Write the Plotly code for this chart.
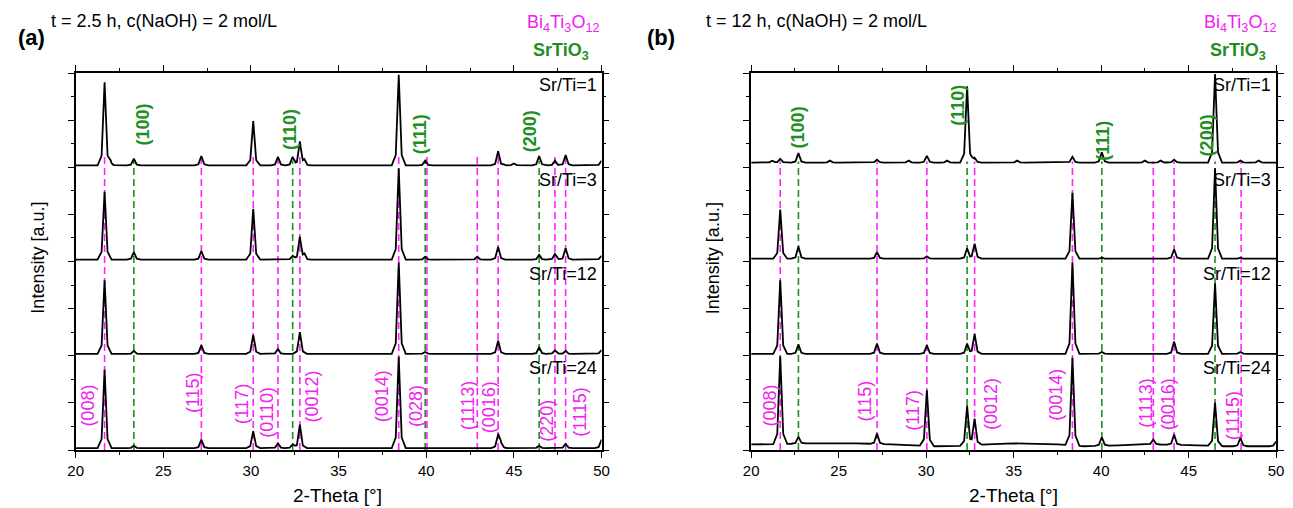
import numpy as np
import plotly.graph_objects as go

# ---------------- data ----------------
LAYER_NAMES = ["Sr/Ti=1", "Sr/Ti=3", "Sr/Ti=12", "Sr/Ti=24"]
LAYER_OFFSETS = [3, 2, 1, 0]

# Panel (a): t = 2.5 h
A_BI_POS = [21.65, 27.17, 30.13, 31.54, 32.79, 38.43, 40.04, 42.91, 44.10, 47.34, 47.95]
A_BI_LABELS = ["(008)", "(115)", "(117)", "(0110)", "(0012)", "(0014)", "(028)",
               "(1113)", "(0016)", "(220)", "(1115)"]
A_BI_LABEL_DX = [-0.95, -0.50, -0.67, -0.60, 0.70, -0.95, -0.67, -0.56, -0.54, -0.46, 0.84]
A_BI_LABEL_Y = [0.47, 0.61, 0.49, 0.40, 0.57, 0.57, 0.47, 0.47, 0.45, 0.31, 0.40]
A_ST_POS = [23.32, 32.38, 39.94, 46.44]
A_ST_LABELS = ["(100)", "(110)", "(111)", "(200)"]
A_ST_LABEL_DX = [0.50, -0.18, -0.30, -0.47]
A_ST_LABEL_Y = [3.45, 3.40, 3.35, 3.38]

A1_POS = [21.65, 22.00, 23.32, 27.17, 30.13, 31.54, 32.38, 32.79, 33.05, 38.43, 39.94, 44.10, 45.00, 46.44, 47.34, 47.95, 50.00]
A1_H = [0.88, 0.03, 0.07, 0.10, 0.47, 0.09, 0.09, 0.25, 0.05, 0.96, 0.05, 0.15, 0.02, 0.10, 0.05, 0.11, 0.05]
A3_POS = [21.65, 23.32, 27.17, 30.13, 32.38, 32.79, 33.05, 38.43, 39.94, 42.91, 44.10, 46.44, 47.34, 47.95, 50.00]
A3_H = [0.72, 0.08, 0.09, 0.54, 0.04, 0.24, 0.05, 0.97, 0.03, 0.03, 0.135, 0.05, 0.06, 0.12, 0.04]
A12_POS = [21.65, 23.32, 27.17, 30.13, 31.54, 32.79, 38.43, 39.94, 44.10, 46.44, 47.34, 47.95, 50.00]
A12_H = [0.78, 0.03, 0.09, 0.20, 0.05, 0.23, 0.97, 0.02, 0.14, 0.07, 0.035, 0.03, 0.04]
A24_POS = [21.65, 23.32, 27.17, 30.13, 31.54, 32.38, 32.79, 38.43, 44.10, 44.25, 46.44, 47.95, 50.00]
A24_H = [0.83, 0.025, 0.09, 0.18, 0.05, 0.04, 0.25, 0.97, 0.14, 0.05, 0.025, 0.045, 0.09]
A_BASE = [0.02, 0.02, 0.02, 0.02]

# Panel (b): t = 12 h
B_BI_POS = [21.66, 27.19, 30.04, 32.77, 38.36, 42.98, 44.17, 48.00]
B_BI_LABELS = ["(008)", "(115)", "(117)", "(0012)", "(0014)", "(1113)", "(0016)", "(1115)"]
B_BI_LABEL_DX = [-0.60, -0.66, -0.78, 0.95, -0.91, -0.43, -0.38, -0.45]
B_BI_LABEL_Y = [0.47, 0.52, 0.42, 0.49, 0.58, 0.50, 0.49, 0.36]
B_ST_POS = [22.70, 32.34, 40.04, 46.51]
B_ST_LABELS = ["(100)", "(110)", "(111)", "(200)"]
B_ST_LABEL_DX = [-0.04, -0.54, 0.06, -0.45]
B_ST_LABEL_Y = [3.42, 3.66, 3.28, 3.34]

B1_POS = [21.20, 21.66, 22.70, 24.50, 27.19, 29.00, 30.04, 31.20, 32.34, 32.77, 35.20, 38.36, 40.04, 42.50, 43.40, 44.17, 46.51, 47.96, 49.00]
B1_H = [0.02, 0.04, 0.10, 0.02, 0.03, 0.02, 0.07, 0.02, 0.81, 0.05, 0.02, 0.06, 0.11, 0.02, 0.02, 0.03, 0.94, 0.02, 0.02]
B3_POS = [21.66, 22.70, 27.19, 30.04, 32.34, 32.77, 38.36, 40.04, 44.17, 46.51, 47.96]
B3_H = [0.52, 0.13, 0.07, 0.025, 0.11, 0.16, 0.70, 0.01, 0.10, 0.96, 0.01]
B12_POS = [21.66, 22.70, 27.19, 30.04, 32.34, 32.77, 38.36, 40.04, 44.17, 46.51, 47.96]
B12_H = [0.78, 0.10, 0.11, 0.09, 0.11, 0.21, 0.97, 0.02, 0.13, 0.75, 0.02]
B24_POS = [21.66, 22.70, 27.19, 30.04, 32.34, 32.77, 38.36, 40.04, 42.98, 44.17, 46.51, 47.96, 50.00]
B24_H = [0.93, 0.07, 0.11, 0.59, 0.42, 0.28, 0.93, 0.09, 0.05, 0.11, 0.46, 0.085, 0.05]
B_BASE = [0.05, 0.03, 0.02, 0.06]
B24_BG_X = [20, 21, 23, 26, 28, 30.5, 31.5, 33.5, 35, 37.5, 39, 41, 43, 45.5, 47, 50]
B24_BG_Y = [0.06, 0.06, 0.07, 0.07, 0.06, 0.04, 0.04, 0.06, 0.07, 0.06, 0.04, 0.05, 0.06, 0.05, 0.04, 0.04]

# ---------------- styles ----------------
MAGENTA = "#ff22ff"
MAGENTA_TXT = "#f020f0"
GREEN = "#1f8f1f"
FONT = "Arial, Liberation Sans, sans-serif"
W_CORE, W_FOOT, CORE_FRAC = 0.17, 0.40, 0.8


def profile(pos, hts, base, bg_x=None, bg_y=None):
    pts = {20.0, 50.0}
    for p in pos:
        pts |= {p - W_FOOT, p - W_CORE, p, p + W_CORE, p + W_FOOT}
    if bg_x is not None:
        pts |= set(float(v) for v in bg_x)
    xs = np.array(sorted(x for x in pts if 20.0 <= x <= 50.0))
    if bg_x is not None:
        ys = np.interp(xs, bg_x, bg_y)
    else:
        ys = np.full(xs.shape, base, dtype=float)
    for p, h in zip(pos, hts):
        d = np.abs(xs - p)
        ys = ys + h * CORE_FRAC * np.clip(1 - d / W_CORE, 0, None) \
                + h * (1 - CORE_FRAC) * np.clip(1 - d / W_FOOT, 0, None)
    return xs, ys


fig = go.Figure()


def add_panel(xa, ya, patterns, bases, bi_pos, st_pos, bi_top, st_top, bg=None):
    for positions, color, top in ((bi_pos, MAGENTA, bi_top), (st_pos, GREEN, st_top)):
        lx, ly = [], []
        for p in positions:
            lx += [p, p, None]
            ly += [0, top, None]
        fig.add_trace(go.Scatter(x=lx, y=ly, mode="lines", xaxis=xa, yaxis=ya,
                                 line=dict(color=color, width=1.6, dash="7px,4px"),
                                 showlegend=False, hoverinfo="skip"))
    for i, (pos, hts) in enumerate(patterns):
        if bg is not None and i == 3:
            xs, ys = profile(pos, hts, bases[i], bg[0], bg[1])
        else:
            xs, ys = profile(pos, hts, bases[i])
        fig.add_trace(go.Scatter(x=xs, y=ys + LAYER_OFFSETS[i], mode="lines",
                                 xaxis=xa, yaxis=ya, name=LAYER_NAMES[i],
                                 line=dict(color="black", width=1.8),
                                 showlegend=False))


add_panel("x", "y", [(A1_POS, A1_H), (A3_POS, A3_H), (A12_POS, A12_H), (A24_POS, A24_H)],
          A_BASE, A_BI_POS, A_ST_POS, 3.12, 3.07)
add_panel("x2", "y2", [(B1_POS, B1_H), (B3_POS, B3_H), (B12_POS, B12_H), (B24_POS, B24_H)],
          B_BASE, B_BI_POS, B_ST_POS, 3.06, 3.06, bg=(B24_BG_X, B24_BG_Y))

ann = []


def panel_annotations(xr, yr, bi_pos, bi_lab, bi_dx, bi_y, st_pos, st_lab, st_dx, st_y):
    for p, t, dx, y in zip(bi_pos, bi_lab, bi_dx, bi_y):
        ann.append(dict(x=p + dx, y=y, xref=xr, yref=yr, text=t, textangle=-90,
                        xanchor="center", yanchor="middle",
                        showarrow=False, font=dict(family=FONT, size=18, color=MAGENTA_TXT)))
    for p, t, dx, y in zip(st_pos, st_lab, st_dx, st_y):
        ann.append(dict(x=p + dx, y=y, xref=xr, yref=yr, text="<b>" + t + "</b>", textangle=-90,
                        xanchor="center", yanchor="middle",
                        showarrow=False, font=dict(family=FONT, size=18, color=GREEN)))
    for name, off in zip(LAYER_NAMES, LAYER_OFFSETS):
        ann.append(dict(x=49.85, y=off + 0.87, xref=xr, yref=yr, text=name,
                        xanchor="right", yanchor="middle",
                        showarrow=False, font=dict(family=FONT, size=18, color="black")))


panel_annotations("x", "y", A_BI_POS, A_BI_LABELS, A_BI_LABEL_DX, A_BI_LABEL_Y,
                  A_ST_POS, A_ST_LABELS, A_ST_LABEL_DX, A_ST_LABEL_Y)
panel_annotations("x2", "y2", B_BI_POS, B_BI_LABELS, B_BI_LABEL_DX, B_BI_LABEL_Y,
                  B_ST_POS, B_ST_LABELS, B_ST_LABEL_DX, B_ST_LABEL_Y)

W, H = 1293, 508


def paper(px, py):
    return px / W, 1 - py / H


for label, cond, xl, xc, bi_r, st_r, ytitle_x, xtitle_x in (
        ("(a)", "t = 2.5 h, c(NaOH) = 2 mol/L", 8, 42, 600, 590, 30, 334),
        ("(b)", "t = 12 h, c(NaOH) = 2 mol/L", 645, 705, 1286, 1276, 714, 1018)):
    x, y = paper(xl, 38)
    ann.append(dict(x=x, y=y, xref="paper", yref="paper", text="<b>" + label + "</b>",
                    xanchor="left", yanchor="middle", showarrow=False,
                    font=dict(family=FONT, size=22, color="black")))
    x, y = paper(xc, 21)
    ann.append(dict(x=x, y=y, xref="paper", yref="paper", text=cond,
                    xanchor="left", yanchor="middle", showarrow=False,
                    font=dict(family=FONT, size=18, color="black")))
    x, y = paper(bi_r, 23)
    ann.append(dict(x=x, y=y, xref="paper", yref="paper",
                    text="Bi<sub>4</sub>Ti<sub>3</sub>O<sub>12</sub>",
                    xanchor="right", yanchor="middle", showarrow=False,
                    font=dict(family=FONT, size=18, color=MAGENTA_TXT)))
    x, y = paper(st_r, 51)
    ann.append(dict(x=x, y=y, xref="paper", yref="paper",
                    text="<b>SrTiO<sub>3</sub></b>",
                    xanchor="right", yanchor="middle", showarrow=False,
                    font=dict(family=FONT, size=18, color=GREEN)))
    x, y = paper(ytitle_x, 258)
    ann.append(dict(x=x, y=y, xref="paper", yref="paper", text="Intensity [a.u.]",
                    textangle=-90, xanchor="center", yanchor="middle", showarrow=False,
                    font=dict(family=FONT, size=18, color="black")))
    x, y = paper(xtitle_x, 495)
    ann.append(dict(x=x, y=y, xref="paper", yref="paper", text="2-Theta [°]",
                    xanchor="center", yanchor="middle",
                    showarrow=False, font=dict(family=FONT, size=19, color="black")))

ydom = [1 - 450 / H, 1 - 73 / H]
xaxis_common = dict(range=[20, 50], showline=True, linecolor="black", linewidth=1.5,
                    mirror="allticks", ticks="outside", ticklen=6, tickwidth=1.3,
                    tickcolor="black", dtick=5, tick0=20, showgrid=False, zeroline=False,
                    minor=dict(dtick=2.5, ticklen=3, tickwidth=1.2, tickcolor="black", ticks="outside"),
                    tickfont=dict(family=FONT, size=15, color="black"))
yaxis_common = dict(range=[0, 4], showline=True, linecolor="black", linewidth=1.5,
                    mirror="allticks", ticks="outside", ticklen=6, tickwidth=1.3,
                    tickcolor="black", dtick=0.5, tick0=0, showticklabels=False,
                    showgrid=False, zeroline=False, domain=ydom,
                    minor=dict(dtick=0.25, ticklen=3, tickwidth=1.2, tickcolor="black", ticks="outside"))

fig.update_layout(
    width=W, height=H, margin=dict(l=0, r=0, t=0, b=0),
    paper_bgcolor="white", plot_bgcolor="white", showlegend=False,
    xaxis=dict(domain=[68.5 / W, 601 / W], anchor="y", **xaxis_common),
    yaxis=dict(anchor="x", **yaxis_common),
    xaxis2=dict(domain=[752.5 / W, 1284 / W], anchor="y2", **xaxis_common),
    yaxis2=dict(anchor="x2", **yaxis_common),
    annotations=ann,
)

fig.write_html("out.html", config={"displayModeBar": False},
               post_script="document.body.style.margin='0px';document.body.style.overflow='hidden';")
